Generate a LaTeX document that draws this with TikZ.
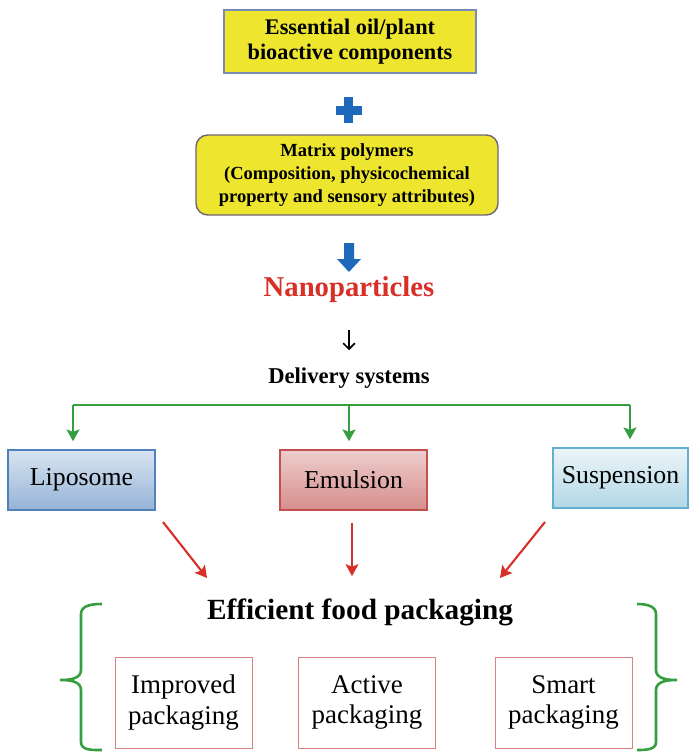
\documentclass[tikz,border=0pt]{standalone}
\usepackage{fontspec}
\setmainfont{Liberation Serif}
\usetikzlibrary{arrows.meta, positioning}

\definecolor{boxyellow}{RGB}{238,230,46}
\definecolor{yellowedge}{RGB}{120,140,180}
\definecolor{polyedge}{RGB}{110,100,120}
\definecolor{plusblue}{RGB}{30,105,185}
\definecolor{nanored}{RGB}{214,48,40}
\definecolor{treegreen}{RGB}{52,158,64}
\definecolor{lipoedge}{RGB}{79,129,189}
\definecolor{emuledge}{RGB}{192,80,77}
\definecolor{suspedge}{RGB}{100,175,205}
\definecolor{packedge}{RGB}{215,130,130}

\tikzset{
    yellowbox/.style={draw=yellowedge, line width=1.2pt, fill=boxyellow, align=center,
        font=\bfseries\fontsize{19}{21.5}\selectfont},
    deliverybox/.style={draw, line width=1pt, minimum width=4.41cm, minimum height=1.8cm,
        font=\fontsize{22}{25}\selectfont},
    packbox/.style={draw=packedge, line width=0.8pt, minimum width=4.11cm, minimum height=2.73cm,
        align=center, font=\fontsize{23}{26}\selectfont},
    greenline/.style={treegreen, line width=2.2pt},
    greenarrow/.style={greenline, -{Stealth[length=10pt, width=11pt, inset=2pt]}},
    redarrow/.style={nanored, line width=1.8pt, -{Stealth[length=10pt, width=11pt, inset=2pt]}},
    bracket/.style={treegreen, line width=2.2pt}
}

\begin{document}
\begin{tikzpicture}[x=0.03cm, y=-0.03cm]
    \useasboundingbox (0,0) rectangle (693,753);

    % top inputs
    \node[yellowbox, minimum width=7.56cm, minimum height=1.89cm] (oil) at (350,41.5)
        {Essential oil/plant\\bioactive components};
    \fill[plusblue] (344,97) rectangle (353,123);
    \fill[plusblue] (335.5,105.5) rectangle (361.5,114.5);
    \node[yellowbox, draw=polyedge, rounded corners=10pt, minimum width=9.06cm, minimum height=2.4cm,
        font=\bfseries\fontsize{15.8}{19.6}\selectfont] (poly) at (347,175)
        {Matrix polymers\\(Composition, physicochemical\\property and sensory attributes)};

    % block arrow
    \fill[plusblue] (344,243) -- (354,243) -- (354,259) -- (361,259) -- (349,272)
        -- (337,259) -- (344,259) -- cycle;

    \node[text=nanored, font=\bfseries\fontsize{24.5}{28}\selectfont] (nano) at (349,290) {Nanoparticles};
    \node[font=\bfseries\fontsize{19.3}{22}\selectfont] (deliv) at (349,378) {Delivery systems};
    \draw[line width=1.4pt, -{Straight Barb[length=5pt, width=10pt]}, shorten <=0.7cm, shorten >=0.4cm]
        (nano) -- (deliv);

    % delivery systems
    \node[deliverybox, draw=lipoedge, top color=lipoedge!22, bottom color=lipoedge!60] (lip) at (81.5,480) {Liposome};
    \node[deliverybox, draw=emuledge, top color=emuledge!28, bottom color=emuledge!65] (emul) at (353.5,480) {Emulsion};
    \node[deliverybox, draw=suspedge, top color=suspedge!12, bottom color=suspedge!50,
        minimum width=4.05cm] (susp) at (620.5,478) {Suspension};

    \coordinate (gL) at (73,405);
    \coordinate (gM) at (349,405);
    \coordinate (gR) at (630,405);
    \draw[greenline] (gL) -- (gR);
    \draw[greenarrow] (gL) -- ([yshift=7pt]gL |- lip.north);
    \draw[greenarrow] (gM) -- ([yshift=7pt]gM |- emul.north);
    \draw[greenarrow] (gR) -- ([yshift=7pt]gR |- susp.north);

    % packaging
    \node[font=\bfseries\fontsize{25}{28}\selectfont] (food) at (360,612) {Efficient food packaging};
    \coordinate (rL) at (207,578);
    \coordinate (rM) at (352,576);
    \coordinate (rR) at (500,578);
    \draw[redarrow] (163,522) -- (rL);
    \draw[redarrow] (emul.south -| rM) ++(0,12) -- (rM);
    \draw[redarrow] (545,522) -- (rR);

    \node[packbox] (impr) at (183.5,702.5) {Improved\\packaging};
    \node[packbox] (act) at (367,702.5) {Active\\packaging};
    \node[packbox] (smart) at (563.5,702.5) {Smart\\packaging};

    \draw[bracket] (102,604) to[out=180, in=90] (81,614) -- (81,670) to[out=-90, in=0] (60,680)
        to[out=0, in=90] (81,690) -- (81,742) to[out=-90, in=180] (102,750);
    \draw[bracket] (637,604) to[out=0, in=90] (656,614) -- (656,670) to[out=-90, in=180] (677,680)
        to[out=180, in=90] (656,690) -- (656,742) to[out=-90, in=0] (637,750);
\end{tikzpicture}
\end{document}
